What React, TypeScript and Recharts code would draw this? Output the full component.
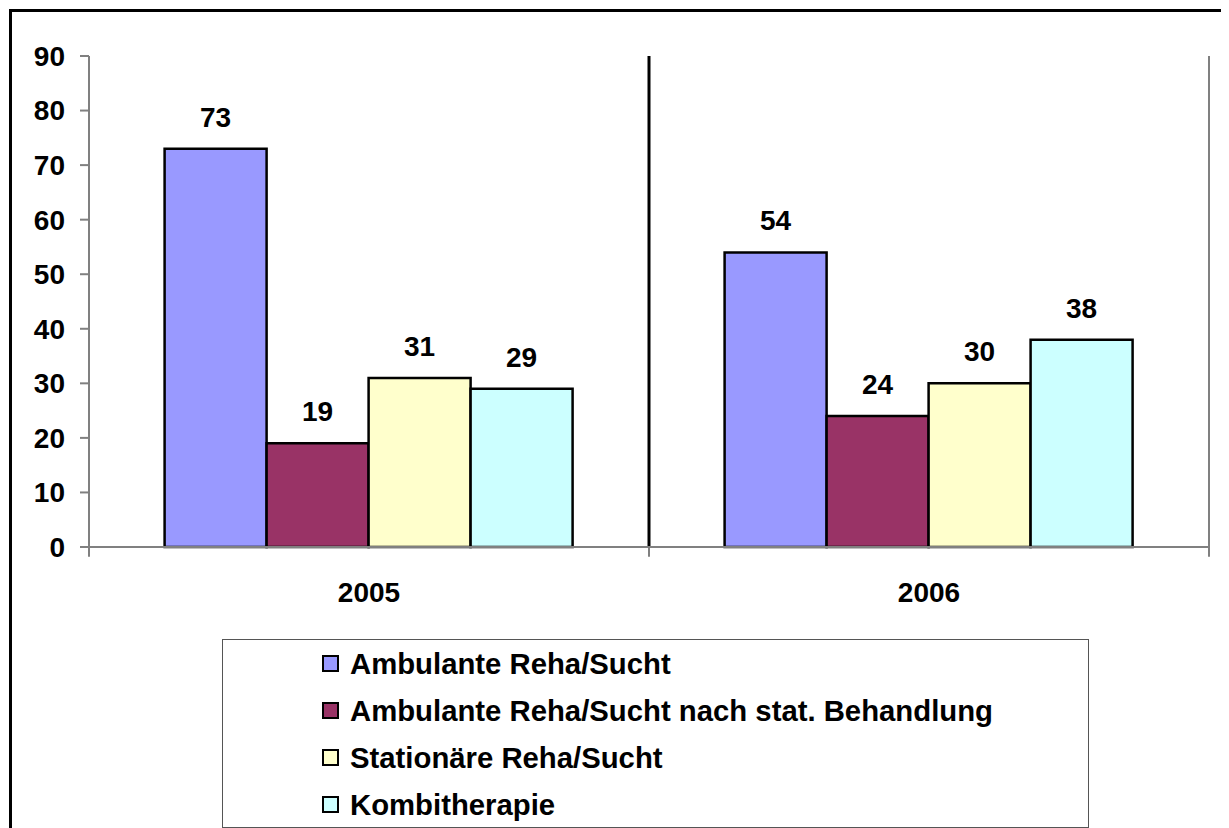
import React from 'react';
import { BarChart, Bar, XAxis, YAxis, LabelList, Legend, ReferenceLine } from 'recharts';

const categories = ['2005', '2006'];
const seriesNames = [
  'Ambulante Reha/Sucht',
  'Ambulante Reha/Sucht nach stat. Behandlung',
  'Stationäre Reha/Sucht',
  'Kombitherapie',
];
const ambulante = [73, 54];
const ambulanteNachStat = [19, 24];
const stationaer = [31, 30];
const kombi = [29, 38];
const yTicks = [0, 10, 20, 30, 40, 50, 60, 70, 80, 90];
const colors = ['#9999FF', '#993366', '#FFFFCC', '#CCFFFF'];
const keys = ['s0', 's1', 's2', 's3'];
const seriesValues = [ambulante, ambulanteNachStat, stationaer, kombi];

const data = categories.map((c, i) => ({
  year: c,
  s0: seriesValues[0][i],
  s1: seriesValues[1][i],
  s2: seriesValues[2][i],
  s3: seriesValues[3][i],
}));

const FONT = '"Liberation Sans", Arial, sans-serif';
const AXIS_GRAY = '#808080';

const LegendBox = () => (
  <div
    style={{
      width: 867,
      height: 189,
      boxSizing: 'border-box',
      border: '1.5px solid #555',
      background: '#fff',
      paddingTop: 0,
    }}
  >
    {seriesNames.map((n, i) => (
      <div
        key={n}
        style={{
          height: 47,
          display: 'flex',
          alignItems: 'center',
          paddingLeft: 99,
          fontFamily: FONT,
          fontWeight: 'bold',
          fontSize: 29.3,
          color: '#000',
        }}
      >
        <span
          style={{
            display: 'inline-block',
            width: 17,
            height: 17,
            boxSizing: 'border-box',
            border: '2px solid #000',
            background: colors[i],
            marginRight: 11,
          }}
        />
        <span>{n}</span>
      </div>
    ))}
  </div>
);

export default function App() {
  return (
    <div style={{ paddingTop: 1, paddingLeft: 1 }}>
      <div
        style={{
          width: 1220,
          height: 830,
          border: '3px solid #000',
          boxSizing: 'border-box',
          position: 'relative',
          overflow: 'hidden',
          background: '#fff',
        }}
      >
        <BarChart
          width={1214}
          height={824}
          data={data}
          margin={{ top: 44, right: 17, left: 0, bottom: 229 }}
          barCategoryGap="13.5%"
          barGap={0}
        >
          <XAxis
            dataKey="year"
            height={60}
            tickSize={0}
            tickMargin={35}
            axisLine={{ stroke: AXIS_GRAY, strokeWidth: 2 }}
            tick={{ fill: '#000', fontFamily: FONT, fontWeight: 'bold', fontSize: 28 }}
          />
          <YAxis
            width={77}
            domain={[0, 90]}
            ticks={yTicks}
            interval={0}
            tickSize={9}
            tickMargin={15}
            axisLine={{ stroke: AXIS_GRAY, strokeWidth: 2 }}
            tickLine={{ stroke: AXIS_GRAY, strokeWidth: 2 }}
            tick={{ fill: '#000', fontFamily: FONT, fontWeight: 'bold', fontSize: 28 }}
          />
          <ReferenceLine
            segment={[{ x: '2006', y: 0 }, { x: '2006', y: 90 }]}
            position="start"
            stroke="#000"
            strokeWidth={3}
            ifOverflow="visible"
          />
          <ReferenceLine
            segment={[{ x: '2006', y: -1.8 }, { x: '2006', y: 0 }]}
            position="start"
            stroke={AXIS_GRAY}
            strokeWidth={2}
            ifOverflow="visible"
          />
          <ReferenceLine
            segment={[{ x: '2006', y: -1.8 }, { x: '2006', y: 90 }]}
            position="end"
            stroke={AXIS_GRAY}
            strokeWidth={2}
            ifOverflow="visible"
          />
          <ReferenceLine
            segment={[{ x: '2005', y: -1.8 }, { x: '2005', y: 0 }]}
            position="start"
            stroke={AXIS_GRAY}
            strokeWidth={2}
            ifOverflow="visible"
          />
          {keys.map((k, i) => (
            <Bar
              key={k}
              dataKey={k}
              name={seriesNames[i]}
              fill={colors[i]}
              stroke="#000"
              strokeWidth={2.5}
              isAnimationActive={false}
            >
              <LabelList
                dataKey={k}
                position="top"
                offset={22}
                style={{ fill: '#000', fontFamily: FONT, fontWeight: 'bold', fontSize: 28 }}
              />
            </Bar>
          ))}
          <Legend
            layout="vertical"
            align="center"
            verticalAlign="middle"
            wrapperStyle={{ left: 210, top: 627, width: 867, height: 189 }}
            content={() => <LegendBox />}
          />
        </BarChart>
      </div>
    </div>
  );
}
